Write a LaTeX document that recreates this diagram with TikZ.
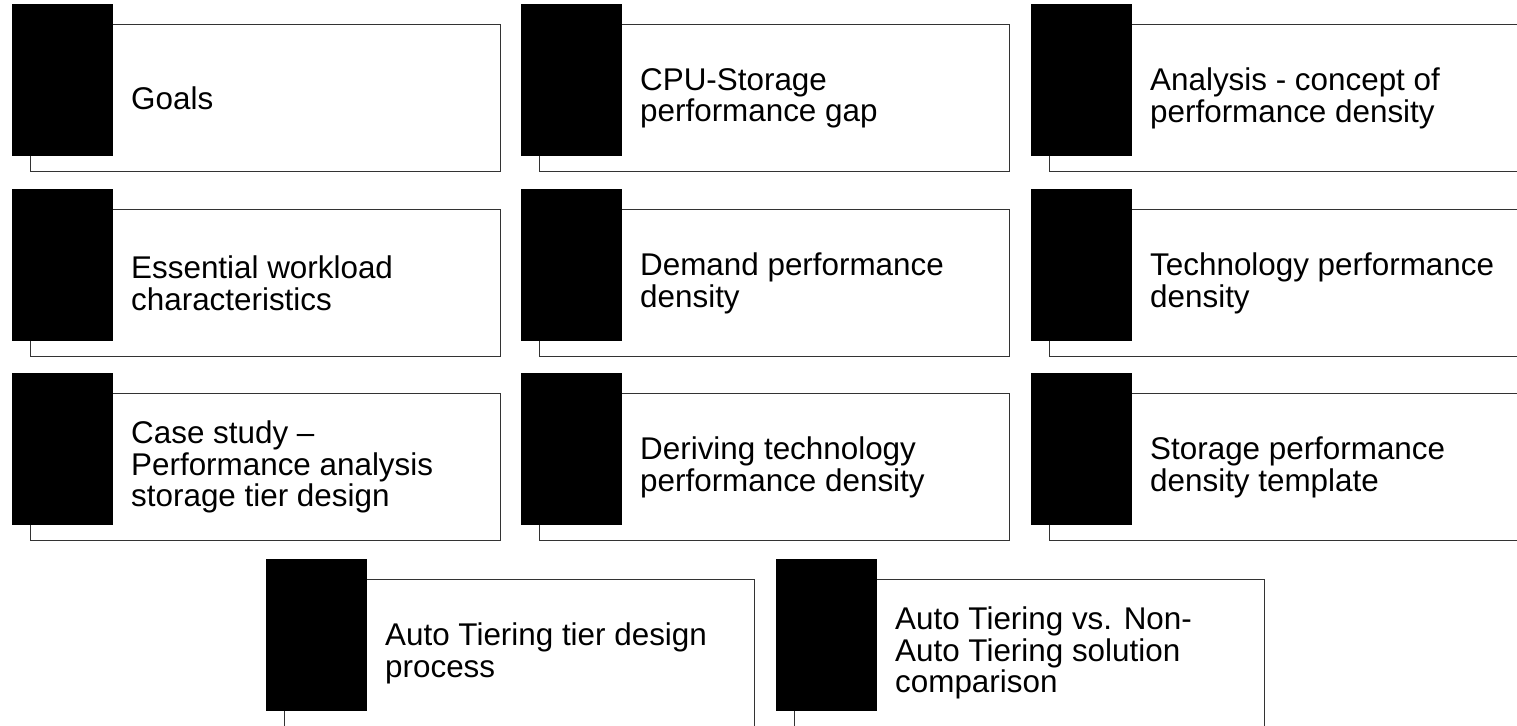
\documentclass[tikz,border=0pt]{standalone}
\usepackage{fontspec}
\setmainfont{Liberation Sans}
\usepackage{tikz}
\usetikzlibrary{positioning,calc}
\tikzset{
  cardbox/.style={draw=black!80,line width=0.65pt,anchor=north west,inner sep=0pt,
    minimum width=235pt,minimum height=73.5pt},
  cardtab/.style={fill=black,anchor=north west,inner sep=0pt,
    minimum width=50.5pt,minimum height=76pt},
  cardtext/.style={anchor=west,align=left,inner sep=0pt,
    font=\fontsize{15.7}{15.8}\selectfont}
}

\begin{document}
\begin{tikzpicture}[x=0.5pt,y=-0.5pt]
\path[use as bounding box] (0,0) rectangle (1517,725);
% row 1
\node[cardbox] (goalsbox) at (30,24) {};
\node[cardtab] (goalstab) at (12,4) {};
\node[cardtext] (goalstext) at ([xshift=8.5pt]goalstab.east |- goalsbox.center) {Goals};
\node[cardbox] (gapbox) at (539,24) {};
\node[cardtab] (gaptab) at (521,4) {};
\node[cardtext] (gaptext) at ([xshift=8.5pt]gaptab.east |- gapbox.center) {CPU-Storage\\performance gap};
\node[cardbox] (conceptbox) at (1049,24) {};
\node[cardtab] (concepttab) at (1031,4) {};
\node[cardtext] (concepttext) at ([xshift=8.5pt]concepttab.east |- conceptbox.center) {Analysis - concept of\\performance density};
% row 2
\node[cardbox] (workloadbox) at (30,209) {};
\node[cardtab] (workloadtab) at (12,189) {};
\node[cardtext] (workloadtext) at ([xshift=8.5pt]workloadtab.east |- workloadbox.center) {Essential workload\\characteristics};
\node[cardbox] (demandbox) at (539,209) {};
\node[cardtab] (demandtab) at (521,189) {};
\node[cardtext] (demandtext) at ([xshift=8.5pt]demandtab.east |- demandbox.center) {Demand performance\\density};
\node[cardbox] (techbox) at (1049,209) {};
\node[cardtab] (techtab) at (1031,189) {};
\node[cardtext] (techtext) at ([xshift=8.5pt]techtab.east |- techbox.center) {Technology performance\\density};
% row 3
\node[cardbox] (casebox) at (30,393) {};
\node[cardtab] (casetab) at (12,373) {};
\node[cardtext] (casetext) at ([xshift=8.5pt]casetab.east |- casebox.center) {Case study --\\Performance analysis\\storage tier design};
\node[cardbox] (derivebox) at (539,393) {};
\node[cardtab] (derivetab) at (521,373) {};
\node[cardtext] (derivetext) at ([xshift=8.5pt]derivetab.east |- derivebox.center) {Deriving technology\\performance density};
\node[cardbox] (templatebox) at (1049,393) {};
\node[cardtab] (templatetab) at (1031,373) {};
\node[cardtext] (templatetext) at ([xshift=8.5pt]templatetab.east |- templatebox.center) {Storage performance\\density template};
% row 4
\node[cardbox] (processbox) at (284,579) {};
\node[cardtab] (processtab) at (266,559) {};
\node[cardtext] (processtext) at ([xshift=8.5pt]processtab.east |- processbox.center) {Auto Tiering tier design\\process};
\node[cardbox] (comparebox) at (794,579) {};
\node[cardtab] (comparetab) at (776,559) {};
\node[cardtext] (comparetext) at ([xshift=8.5pt]comparetab.east |- comparebox.center) {Auto Tiering vs. Non-\\Auto Tiering solution\\comparison};
\end{tikzpicture}
\end{document}
